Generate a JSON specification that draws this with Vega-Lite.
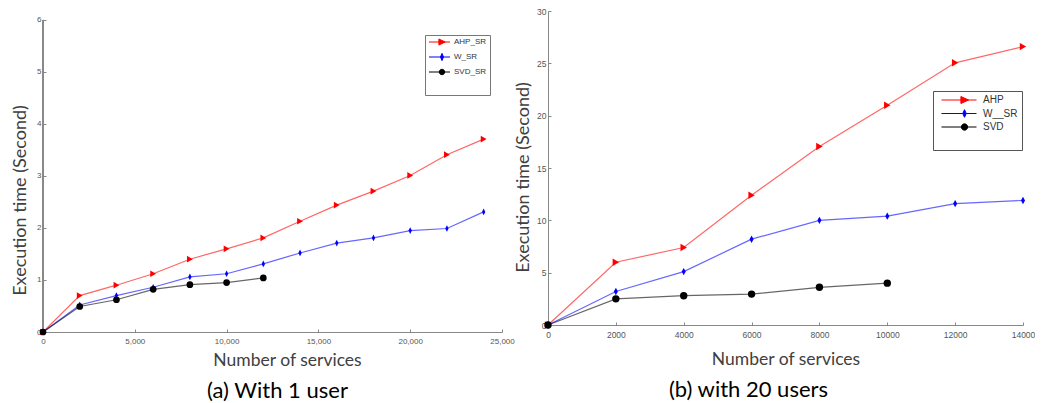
{
  "$schema": "https://vega.github.io/schema/vega-lite/v6.json",
  "padding": {"left": 11, "top": 7, "right": 0, "bottom": 0},
  "spacing": -1,
  "background": "white",
  "config": {"view": {"stroke": null}, "font": "Lato"},
  "datasets": {
    "a": [
      {"method": "AHP_SR", "n": 0, "t": 0}, {"method": "AHP_SR", "n": 2000, "t": 0.70}, {"method": "AHP_SR", "n": 4000, "t": 0.90}, {"method": "AHP_SR", "n": 6000, "t": 1.12}, {"method": "AHP_SR", "n": 8000, "t": 1.40}, {"method": "AHP_SR", "n": 10000, "t": 1.60}, {"method": "AHP_SR", "n": 12000, "t": 1.81}, {"method": "AHP_SR", "n": 14000, "t": 2.13}, {"method": "AHP_SR", "n": 16000, "t": 2.44}, {"method": "AHP_SR", "n": 18000, "t": 2.71}, {"method": "AHP_SR", "n": 20000, "t": 3.01}, {"method": "AHP_SR", "n": 22000, "t": 3.41}, {"method": "AHP_SR", "n": 24000, "t": 3.71},
      {"method": "W_SR", "n": 0, "t": 0}, {"method": "W_SR", "n": 2000, "t": 0.52}, {"method": "W_SR", "n": 4000, "t": 0.70}, {"method": "W_SR", "n": 6000, "t": 0.86}, {"method": "W_SR", "n": 8000, "t": 1.06}, {"method": "W_SR", "n": 10000, "t": 1.12}, {"method": "W_SR", "n": 12000, "t": 1.31}, {"method": "W_SR", "n": 14000, "t": 1.52}, {"method": "W_SR", "n": 16000, "t": 1.71}, {"method": "W_SR", "n": 18000, "t": 1.81}, {"method": "W_SR", "n": 20000, "t": 1.95}, {"method": "W_SR", "n": 22000, "t": 1.99}, {"method": "W_SR", "n": 24000, "t": 2.31},
      {"method": "SVD_SR", "n": 0, "t": 0}, {"method": "SVD_SR", "n": 2000, "t": 0.49}, {"method": "SVD_SR", "n": 4000, "t": 0.62}, {"method": "SVD_SR", "n": 6000, "t": 0.82}, {"method": "SVD_SR", "n": 8000, "t": 0.91}, {"method": "SVD_SR", "n": 10000, "t": 0.95}, {"method": "SVD_SR", "n": 12000, "t": 1.04}
    ],
    "b": [
      {"method": "AHP", "n": 0, "t": 0}, {"method": "AHP", "n": 2000, "t": 6.0}, {"method": "AHP", "n": 4000, "t": 7.4}, {"method": "AHP", "n": 6000, "t": 12.4}, {"method": "AHP", "n": 8000, "t": 17.05}, {"method": "AHP", "n": 10000, "t": 21.0}, {"method": "AHP", "n": 12000, "t": 25.05}, {"method": "AHP", "n": 14000, "t": 26.6},
      {"method": "W__SR", "n": 0, "t": 0}, {"method": "W__SR", "n": 2000, "t": 3.2}, {"method": "W__SR", "n": 4000, "t": 5.1}, {"method": "W__SR", "n": 6000, "t": 8.2}, {"method": "W__SR", "n": 8000, "t": 10.0}, {"method": "W__SR", "n": 10000, "t": 10.4}, {"method": "W__SR", "n": 12000, "t": 11.6}, {"method": "W__SR", "n": 14000, "t": 11.9},
      {"method": "SVD", "n": 0, "t": 0}, {"method": "SVD", "n": 2000, "t": 2.5}, {"method": "SVD", "n": 4000, "t": 2.8}, {"method": "SVD", "n": 6000, "t": 2.95}, {"method": "SVD", "n": 8000, "t": 3.6}, {"method": "SVD", "n": 10000, "t": 4.0}
    ]
  },
  "resolve": {"scale": {"color": "independent", "shape": "independent", "fill": "independent", "stroke": "independent"}, "legend": {"color": "independent", "shape": "independent", "fill": "independent", "stroke": "independent"}},
  "hconcat": [
    {
      "width": 459,
      "height": 321,
      "data": {"name": "a"},
      "title": {"text": "(a) With 1 user", "orient": "bottom", "fontSize": 22, "font": "Lato", "fontWeight": "normal", "color": "#000000", "offset": 12, "dx": 5, "anchor": "middle"},
      "resolve": {"scale": {"shape": "independent", "fill": "independent", "stroke": "independent"}},
      "layer": [
        {
          "mark": {"type": "rule", "color": "#888888", "strokeWidth": 1},
          "encoding": {
            "x": {"datum": 0, "type": "quantitative"},
            "y": {"datum": 0, "type": "quantitative"},
            "y2": {"datum": 6}
          }
        },
        {
          "mark": {"type": "line", "opacity": 0.6, "strokeWidth": 1.2},
          "encoding": {
            "x": {"field": "n", "type": "quantitative", "scale": {"domain": [0, 25000], "nice": false},
              "axis": {"values": [0, 5000, 10000, 15000, 20000, 25000], "format": ",d", "grid": false, "labelFlush": false, "labelOverlap": false, "labelFontSize": 8, "labelFont": "Liberation Sans Narrow, Liberation Sans", "labelColor": "#555555", "tickSize": -3, "labelPadding": 8, "domainColor": "#888888", "tickColor": "#888888",
                "title": "Number of services", "titleFontSize": 17.5, "titleFont": "Lato", "titleFontWeight": "normal", "titleColor": "#404040", "titleX": 244, "titlePadding": 6}},
            "y": {"field": "t", "type": "quantitative", "scale": {"domain": [0, 6.173], "nice": false},
              "axis": {"values": [0, 1, 2, 3, 4, 5, 6], "format": "d", "domain": false, "grid": false, "labelFlush": false, "labelOverlap": false, "labelBound": false, "labelFontSize": 8, "labelFont": "Liberation Sans Narrow, Liberation Sans", "labelColor": "#555555", "tickSize": -3, "labelPadding": 5, "tickColor": "#888888",
                "title": "Execution time (Second)", "titleFontSize": 18, "titleFont": "Lato", "titleFontWeight": "normal", "titleColor": "#404040", "titleX": -23, "titleY": 189, "titleAngle": 270, "titleAlign": "center", "titleBaseline": "middle"}},
            "color": {"field": "method", "type": "nominal", "scale": {"domain": ["AHP_SR", "W_SR", "SVD_SR"], "range": ["#ff0000", "#0000ff", "#000000"]}, "legend": null}
          }
        },
        {
          "mark": {"type": "point", "filled": true, "opacity": 1, "size": 45},
          "encoding": {
            "x": {"field": "n", "type": "quantitative"},
            "y": {"field": "t", "type": "quantitative"},
            "fill": {"field": "method", "type": "nominal", "scale": {"domain": ["AHP_SR", "W_SR", "SVD_SR"], "range": ["#ff0000", "#0000ff", "#000000"]}, "legend": null},
            "shape": {"field": "method", "type": "nominal", "scale": {"domain": ["AHP_SR", "W_SR", "SVD_SR"], "range": ["triangle-right", "M0,-1L0.5,0L0,1L-0.5,0Z", "circle"]}, "legend": null}
          }
        },
        {
          "transform": [{"filter": "false"}],
          "mark": {"type": "point", "filled": true, "opacity": 1, "strokeWidth": 1},
          "encoding": {
            "x": {"field": "n", "type": "quantitative"},
            "y": {"field": "t", "type": "quantitative"},
            "fill": {"field": "method", "type": "nominal", "scale": {"domain": ["AHP_SR", "W_SR", "SVD_SR"], "range": ["#ff0000", "#0000ff", "#000000"]},
              "legend": {"orient": "none", "legendX": 382, "legendY": 24, "title": " ", "titleOrient": "bottom", "titleFontSize": 12, "titlePadding": 4, "strokeColor": "#777777", "fillColor": "#ffffff", "padding": 3, "labelFontSize": 8, "labelFont": "Liberation Sans Narrow, Liberation Sans", "labelColor": "#333333", "labelOffset": 18, "symbolSize": 36, "symbolStrokeWidth": 1, "rowPadding": 4}},
            "stroke": {"field": "method", "type": "nominal", "scale": {"domain": ["AHP_SR", "W_SR", "SVD_SR"], "range": ["#ff0000", "#0000ff", "#000000"]},
              "legend": {"orient": "none", "legendX": 382, "legendY": 24, "title": " ", "titleOrient": "bottom", "titleFontSize": 12, "titlePadding": 4, "strokeColor": "#777777", "fillColor": "#ffffff", "padding": 3, "labelFontSize": 8, "labelFont": "Liberation Sans Narrow, Liberation Sans", "labelColor": "#333333", "labelOffset": 18, "symbolSize": 36, "symbolStrokeWidth": 1, "rowPadding": 4}},
            "shape": {"field": "method", "type": "nominal", "scale": {"domain": ["AHP_SR", "W_SR", "SVD_SR"], "range": ["M-1,0H6M2.3,-1L4.4,0L2.3,1Z", "M-1,0H6M3.33,-1.2L3.83,0L3.33,1.2L2.83,0Z", "M-1,0H6M2.43,0A0.9,0.9 0 1,1 4.23,0A0.9,0.9 0 1,1 2.43,0Z"]},
              "legend": {"orient": "none", "legendX": 382, "legendY": 24, "title": " ", "titleOrient": "bottom", "titleFontSize": 12, "titlePadding": 4, "strokeColor": "#777777", "fillColor": "#ffffff", "padding": 3, "labelFontSize": 8, "labelFont": "Liberation Sans Narrow, Liberation Sans", "labelColor": "#333333", "labelOffset": 18, "symbolSize": 36, "symbolStrokeWidth": 1, "rowPadding": 4}}
          }
        }
      ]
    },
    {
      "width": 475,
      "height": 314,
      "data": {"name": "b"},
      "title": {"text": "(b) with 20 users", "orient": "bottom", "fontSize": 22, "font": "Lato", "fontWeight": "normal", "color": "#000000", "offset": 12, "dx": -37, "anchor": "middle"},
      "resolve": {"scale": {"shape": "independent", "fill": "independent", "stroke": "independent"}},
      "layer": [
        {
          "mark": {"type": "line", "opacity": 0.6, "strokeWidth": 1.2},
          "encoding": {
            "x": {"field": "n", "type": "quantitative", "scale": {"domain": [0, 14000], "nice": false},
              "axis": {"values": [0, 2000, 4000, 6000, 8000, 10000, 12000, 14000], "format": "d", "grid": false, "labelFlush": false, "labelOverlap": false, "labelFontSize": 8.5, "labelFont": "Liberation Sans", "labelColor": "#555555", "tickSize": -3, "labelPadding": 8, "domainColor": "#888888", "tickColor": "#888888",
                "title": "Number of services", "titleFontSize": 17.5, "titleFont": "Lato", "titleFontWeight": "normal", "titleColor": "#404040", "titlePadding": 12}},
            "y": {"field": "t", "type": "quantitative", "scale": {"domain": [0, 30], "nice": false},
              "axis": {"values": [0, 5, 10, 15, 20, 25, 30], "grid": false, "labelFlush": false, "labelOverlap": false, "labelFontSize": 8.5, "labelFont": "Liberation Sans", "labelColor": "#555555", "tickSize": -3, "labelPadding": 5, "domainColor": "#888888", "tickColor": "#888888",
                "title": "Execution time (Second)", "titleFontSize": 18, "titleFont": "Lato", "titleFontWeight": "normal", "titleColor": "#404040", "titleX": -25, "titleY": 166, "titleAngle": 270, "titleAlign": "center", "titleBaseline": "middle"}},
            "color": {"field": "method", "type": "nominal", "scale": {"domain": ["AHP", "W__SR", "SVD"], "range": ["#ff0000", "#0000ff", "#000000"]}, "legend": null}
          }
        },
        {
          "mark": {"type": "point", "filled": true, "opacity": 1, "size": 55},
          "encoding": {
            "x": {"field": "n", "type": "quantitative"},
            "y": {"field": "t", "type": "quantitative"},
            "fill": {"field": "method", "type": "nominal", "scale": {"domain": ["AHP", "W__SR", "SVD"], "range": ["#ff0000", "#0000ff", "#000000"]}, "legend": null},
            "shape": {"field": "method", "type": "nominal", "scale": {"domain": ["AHP", "W__SR", "SVD"], "range": ["triangle-right", "M0,-1L0.55,0L0,1L-0.55,0Z", "circle"]}, "legend": null}
          }
        },
        {
          "transform": [{"filter": "false"}],
          "mark": {"type": "point", "filled": true, "opacity": 1, "strokeWidth": 1},
          "encoding": {
            "x": {"field": "n", "type": "quantitative"},
            "y": {"field": "t", "type": "quantitative"},
            "fill": {"field": "method", "type": "nominal", "scale": {"domain": ["AHP", "W__SR", "SVD"], "range": ["#ff0000", "#0000ff", "#000000"]},
              "legend": {"orient": "none", "legendX": 385, "legendY": 80, "title": " ", "titleOrient": "bottom", "titleFontSize": 10, "titlePadding": 4, "strokeColor": "#555555", "fillColor": "#ffffff", "padding": 4, "labelFontSize": 10, "labelFont": "Liberation Sans", "labelColor": "#333333", "labelOffset": 36, "symbolSize": 49, "symbolStrokeWidth": 1, "rowPadding": 1.5}},
            "stroke": {"field": "method", "type": "nominal", "scale": {"domain": ["AHP", "W__SR", "SVD"], "range": ["#ff0000", "#0000ff", "#000000"]},
              "legend": {"orient": "none", "legendX": 385, "legendY": 80, "title": " ", "titleOrient": "bottom", "titleFontSize": 10, "titlePadding": 4, "strokeColor": "#555555", "fillColor": "#ffffff", "padding": 4, "labelFontSize": 10, "labelFont": "Liberation Sans", "labelColor": "#333333", "labelOffset": 36, "symbolSize": 49, "symbolStrokeWidth": 1, "rowPadding": 1.5}},
            "shape": {"field": "method", "type": "nominal", "scale": {"domain": ["AHP", "W__SR", "SVD"], "range": ["M-0.14,0H9.86M5.4,-1L7.6,0L5.4,1Z", "M-0.14,0H9.86M6.43,-1.1L6.93,0L6.43,1.1L5.93,0Z", "M-0.14,0H9.86M5.53,0A0.9,0.9 0 1,1 7.33,0A0.9,0.9 0 1,1 5.53,0Z"]},
              "legend": {"orient": "none", "legendX": 385, "legendY": 80, "title": " ", "titleOrient": "bottom", "titleFontSize": 10, "titlePadding": 4, "strokeColor": "#555555", "fillColor": "#ffffff", "padding": 4, "labelFontSize": 10, "labelFont": "Liberation Sans", "labelColor": "#333333", "labelOffset": 36, "symbolSize": 49, "symbolStrokeWidth": 1, "rowPadding": 1.5}}
          }
        }
      ]
    }
  ]
}
